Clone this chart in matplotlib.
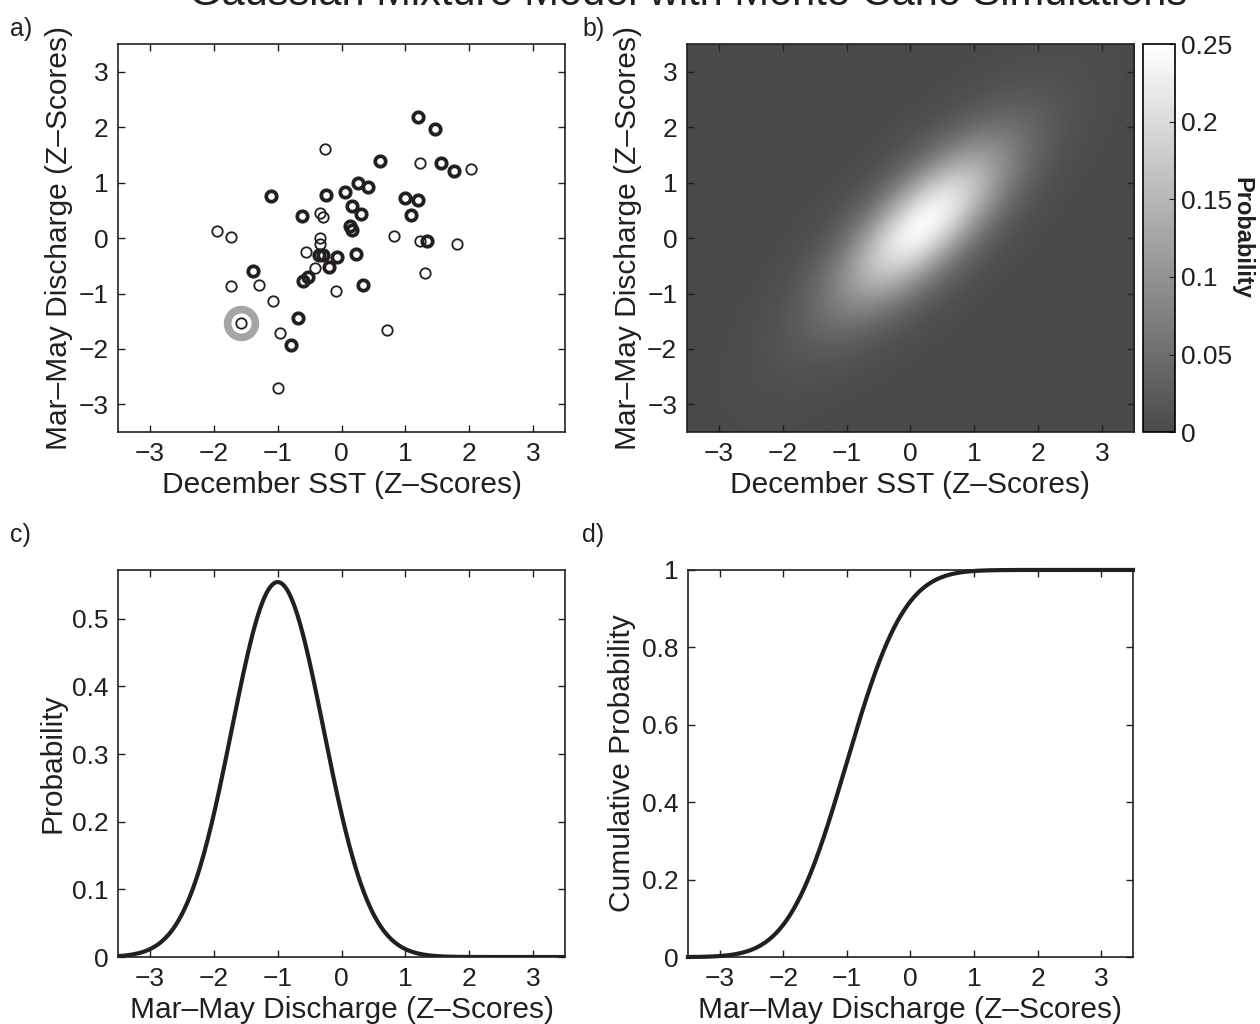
import numpy as np
import matplotlib.pyplot as plt
from matplotlib.colors import LinearSegmentedColormap

plt.rcParams['font.family'] = ['Liberation Sans', 'DejaVu Sans']

# scatter points (December SST, Mar-May discharge)
thick_x = [1.19, 1.47, 0.60, 1.55, 1.76, -1.10, -0.25, 0.05, 0.26, 0.42, 1.00, 1.19,
           0.17, 1.08, 0.31, -0.62, 0.13, 0.16, 1.34, -0.36, -0.29, -0.07, 0.22, -0.19,
           -0.52, -0.61, 0.34, -1.38, -0.68, -0.79]
thick_y = [2.19, 1.96, 1.39, 1.36, 1.21, 0.76, 0.78, 0.84, 0.99, 0.93, 0.72, 0.69,
           0.58, 0.42, 0.44, 0.40, 0.21, 0.15, -0.05, -0.31, -0.31, -0.34, -0.29, -0.52,
           -0.70, -0.78, -0.84, -0.59, -1.45, -1.93]
thin_x = [-0.26, 1.23, 2.03, -0.34, -0.29, -1.95, -1.73, -0.34, -0.34, -0.56, 0.82, 1.22,
          1.80, -0.42, -0.09, 1.30, -1.73, -1.30, -1.08, -1.57, -0.96, -0.99, 0.71]
thin_y = [1.61, 1.35, 1.24, 0.45, 0.38, 0.13, 0.02, 0.00, -0.11, -0.26, 0.04, -0.05,
          -0.10, -0.54, -0.96, -0.63, -0.87, -0.84, -1.14, -1.53, -1.71, -2.70, -1.65]
highlight = (-1.57, -1.53)

# gaussian mixture shown in panel b (two components)
gmm_weight = [0.72, 0.28]
gmm_mean_x = [0.2, 0.15]
gmm_mean_y = [0.25, 0.2]
gmm_sd_x = [0.85, 1.3]
gmm_sd_y = [0.95, 1.5]
gmm_rho = [0.72, 0.78]

# conditional distribution of discharge (panels c, d)
cond_mean = -1.0
cond_sd = 0.72

ticks = [-3, -2, -1, 0, 1, 2, 3]
ink = '#231f20'

fig = plt.figure(figsize=(12.6, 10.24), dpi=100)
ax_a = fig.add_axes([0.0937, 0.578, 0.3548, 0.379])
ax_b = fig.add_axes([0.5452, 0.578, 0.3548, 0.379])
cax = fig.add_axes([0.9071, 0.578, 0.0254, 0.379])
ax_c = fig.add_axes([0.0937, 0.0654, 0.3548, 0.378])
ax_d = fig.add_axes([0.5460, 0.0654, 0.3532, 0.378])


def style(ax):
    ax.tick_params(direction='in', length=5, width=1, top=True, right=True,
                   labelsize=19, pad=7, color=ink, labelcolor=ink)
    for s in ax.spines.values():
        s.set_linewidth(1.2)
        s.set_color(ink)


# a) scatter
ax_a.plot(highlight[0], highlight[1], 'o', ms=20, mfc='none', mec='#a5a5a5', mew=5.5)
ax_a.plot(thin_x, thin_y, 'o', ms=7.5, mfc='none', mec=ink, mew=1.3)
ax_a.plot(thick_x, thick_y, 'o', ms=7.5, mfc='none', mec=ink, mew=2.7)
ax_a.set_xlim(-3.5, 3.5)
ax_a.set_ylim(-3.5, 3.5)
ax_a.set_xticks(ticks)
ax_a.set_yticks(ticks)
ax_a.set_xlabel('December SST (Z–Scores)', fontsize=21.5, color=ink)
ax_a.set_ylabel('Mar–May Discharge (Z–Scores)', fontsize=21.5, color=ink)
style(ax_a)

# b) density
g = np.linspace(-3.5, 3.5, 400)
X, Y = np.meshgrid(g, g)
Z = np.zeros_like(X)
for w, mx, my, sx, sy, r in zip(gmm_weight, gmm_mean_x, gmm_mean_y, gmm_sd_x, gmm_sd_y, gmm_rho):
    zx = (X - mx) / sx
    zy = (Y - my) / sy
    q = (zx**2 - 2 * r * zx * zy + zy**2) / (1 - r**2)
    Z += w * np.exp(-q / 2) / (2 * np.pi * sx * sy * np.sqrt(1 - r**2))
cmap = LinearSegmentedColormap.from_list('gr', [(0.29, 0.29, 0.29), (1, 1, 1)])
im = ax_b.imshow(Z, extent=[-3.5, 3.5, -3.5, 3.5], origin='lower', cmap=cmap,
                 vmin=0, vmax=0.25, aspect='auto', interpolation='bilinear')
ax_b.set_xticks(ticks)
ax_b.set_yticks(ticks)
ax_b.set_xlabel('December SST (Z–Scores)', fontsize=21.5, color=ink)
ax_b.set_ylabel('Mar–May Discharge (Z–Scores)', fontsize=21.5, color=ink)
style(ax_b)
cb = fig.colorbar(im, cax=cax, ticks=[0, 0.05, 0.1, 0.15, 0.2, 0.25])
cb.ax.set_yticklabels(['0', '0.05', '0.1', '0.15', '0.2', '0.25'])
cb.ax.tick_params(direction='in', length=4, labelsize=19, pad=4, color=ink, labelcolor=ink)
cb.outline.set_linewidth(1.2)
fig.text(0.986, 0.7675, 'Probability', fontsize=17, fontweight='bold', rotation=-90,
         ha='center', va='center', color=ink)

# c) pdf
x = np.linspace(-3.5, 3.5, 500)
pdf = np.exp(-0.5 * ((x - cond_mean) / cond_sd)**2) / (cond_sd * np.sqrt(2 * np.pi))
ax_c.plot(x, pdf, color=ink, lw=3)
ax_c.set_xlim(-3.5, 3.5)
ax_c.set_ylim(0, 0.572)
ax_c.set_xticks(ticks)
ax_c.set_yticks([0, 0.1, 0.2, 0.3, 0.4, 0.5])
ax_c.set_yticklabels(['0', '0.1', '0.2', '0.3', '0.4', '0.5'])
ax_c.set_xlabel('Mar–May Discharge (Z–Scores)', fontsize=21.5, color=ink)
ax_c.set_ylabel('Probability', fontsize=21.5, color=ink)
style(ax_c)

# d) cdf
cdf = np.cumsum(pdf) * (x[1] - x[0])
cdf = cdf / cdf[-1]
ax_d.plot(x, cdf, color=ink, lw=3, clip_on=False)
ax_d.set_xlim(-3.5, 3.5)
ax_d.set_ylim(0, 1)
ax_d.set_xticks(ticks)
ax_d.set_yticks([0, 0.2, 0.4, 0.6, 0.8, 1])
ax_d.set_yticklabels(['0', '0.2', '0.4', '0.6', '0.8', '1'])
ax_d.set_xlabel('Mar–May Discharge (Z–Scores)', fontsize=21.5, color=ink)
ax_d.set_ylabel('Cumulative Probability', fontsize=21.5, color=ink)
style(ax_d)

for lab, (px, py) in zip(['a)', 'b)', 'c)', 'd)'],
                         [(0.008, 0.972), (0.462, 0.972), (0.008, 0.478), (0.462, 0.478)]):
    fig.text(px, py, lab, fontsize=18, color=ink, va='center')

fig.text(0.546, 0.995, 'Gaussian Mixture Model with Monte Carlo Simulations',
         fontsize=30, ha='center', va='baseline', color=ink)

fig.savefig('out.png', dpi=100)
